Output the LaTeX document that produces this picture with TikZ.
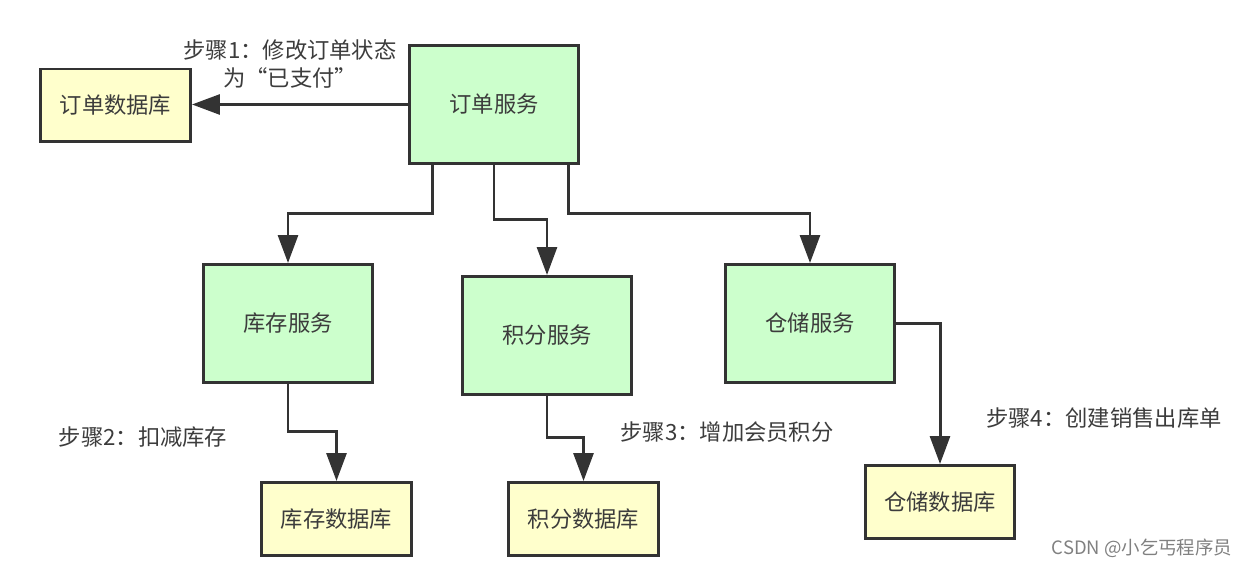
\documentclass[tikz,border=0pt]{standalone}
\usepackage{fontspec}
\setmainfont{Noto Sans CJK SC}
\usetikzlibrary{arrows.meta,positioning}
\definecolor{svcgreen}{RGB}{204,255,204}
\definecolor{dbyellow}{RGB}{255,255,204}
\definecolor{edge}{RGB}{51,51,51}
\definecolor{txt}{RGB}{60,60,60}
\begin{document}
\begin{tikzpicture}[x=0.02cm,y=-0.02cm]
\tikzstyle{service}=[draw=edge,line width=1.7pt,fill=svcgreen,minimum width=3.38cm,minimum height=2.36cm,text=txt,font=\fontsize{12.7}{15}\selectfont]
\tikzstyle{db}=[draw=edge,line width=1.7pt,fill=dbyellow,minimum width=3.0cm,minimum height=1.46cm,text=txt,font=\fontsize{12.7}{15}\selectfont]
\tikzstyle{steplabel}=[text=txt,font=\fontsize{12.7}{16}\selectfont,align=center,inner sep=0pt]
\tikzstyle{arrow}=[draw=edge,line width=1.7pt,-{Triangle[length=0.56cm,width=0.4cm]}]
\useasboundingbox (0,0) rectangle (1252,567);
\node [service] at (494,104.5) (order) {订单服务};
\node [db] at (115.5,105.5) (orderdb) {订单数据库};
\node [service] at (288,323.5) (stock) {库存服务};
\node [service] at (547,335.5) (points) {积分服务};
\node [service] at (810,323.5) (store) {仓储服务};
\node [db] at (336.5,519) (stockdb) {库存数据库};
\node [db] at (583.5,519) (pointsdb) {积分数据库};
\node [db] at (940,502) (storedb) {仓储数据库};
\node [steplabel] at (290,64) (step1) {步骤1：修改订单状态\\为“已支付”};
\node [steplabel] at (143,437) (step2) {步骤2：扣减库存};
\node [steplabel] at (727,432) (step3) {步骤3：增加会员积分};
\node [steplabel] at (1104,418) (step4) {步骤4：创建销售出库单};
\node [text=gray,font=\fontsize{10.5}{12}\selectfont,inner sep=0pt] at (1142,548) (mark) {CSDN @小乞丐程序员};
\draw [arrow] (order.west) -- (order.west -| orderdb.east);
\draw [arrow] (order.south west) ++(24,0) -- ++(0,49) -| (stock.north);
\draw [arrow] (order.south) -- ++(0,55) -| (points.north);
\draw [arrow] (order.south east) ++(-11,0) -- ++(0,49) -| (store.north);
\draw [arrow] (stock.south) -- ++(0,48) -| (stockdb.north);
\draw [arrow] (points.south) -- ++(0,42) -| (pointsdb.north);
\draw [arrow] (store.east) -| (storedb.north);
\end{tikzpicture}
\end{document}
